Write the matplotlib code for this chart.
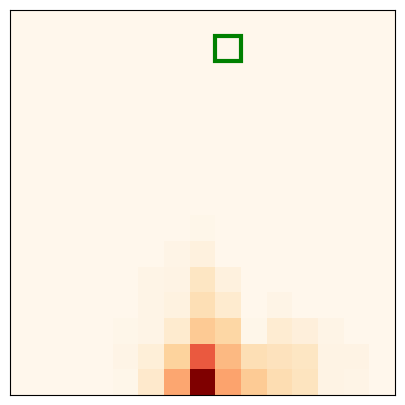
import numpy as np
import matplotlib
matplotlib.use("Agg")
import matplotlib.pyplot as plt
from matplotlib.patches import Rectangle

n = 15
# nonzero cells: (row, col, value); row 0 is top
rows = [8, 9, 9, 10, 10, 10, 10,
        11, 11, 11, 11, 11,
        12, 12, 12, 12, 12, 12, 12, 12, 12,
        13, 13, 13, 13, 13, 13, 13, 13, 13, 13,
        14, 14, 14, 14, 14, 14, 14, 14, 14, 14]
cols = [7, 6, 7, 5, 6, 7, 8,
        5, 6, 7, 8, 10,
        4, 5, 6, 7, 8, 9, 10, 11, 12,
        4, 5, 6, 7, 8, 9, 10, 11, 12, 13,
        4, 5, 6, 7, 8, 9, 10, 11, 12, 13]
vals = [1, 2, 5, 2, 3, 14, 5,
        2, 4, 18, 10, 2,
        1, 2, 10, 30, 23, 1, 9, 6, 2,
        2, 7, 25, 65, 38, 18, 16, 14, 3, 3,
        1, 11, 43, 100, 44, 29, 19, 15, 3, 2]
highlight = (1, 8)  # (row, col)

grid = np.zeros((n, n))
for r, c, v in zip(rows, cols, vals):
    grid[r, c] = v

fig = plt.figure(figsize=(4.05, 4.05), dpi=100)
ax = fig.add_axes([10/405, 10/405, 385/405, 385/405])
ax.imshow(grid, cmap="OrRd", aspect="auto", interpolation="nearest")
ax.add_patch(Rectangle((highlight[1] - 0.5, highlight[0] - 0.5), 1, 1,
                       fill=False, edgecolor="green", lw=3))
ax.set_xticks([])
ax.set_yticks([])
fig.savefig("out.png", dpi=100)
